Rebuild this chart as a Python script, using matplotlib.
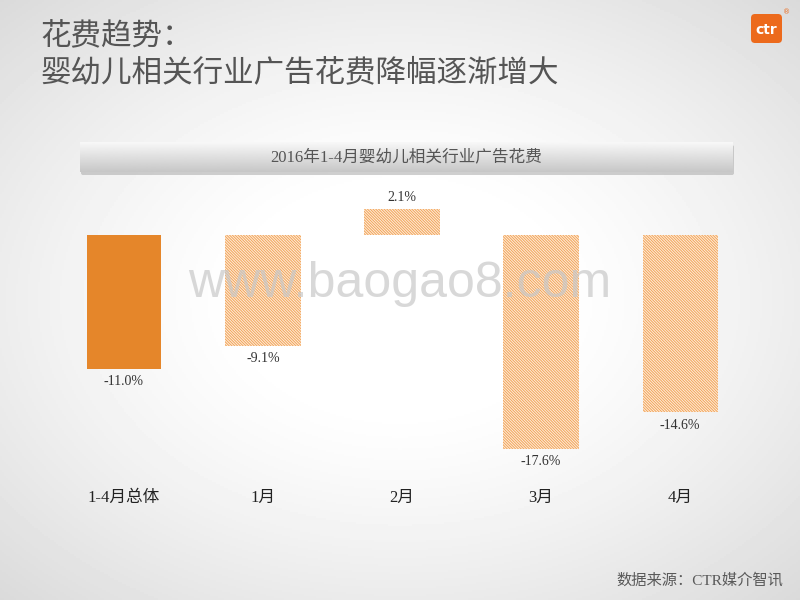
import numpy as np
import matplotlib
matplotlib.use("Agg")
import matplotlib.pyplot as plt
from matplotlib.patches import FancyBboxPatch

plt.rcParams['font.family'] = ['Liberation Serif', 'Noto Sans CJK SC', 'DejaVu Sans']
plt.rcParams['hatch.linewidth'] = 0.7

# data
categories = ['1-4月总体', '1月', '2月', '3月', '4月']
values = [-11.0, -9.1, 2.1, -17.6, -14.6]
value_labels = ['-11.0%', '-9.1%', '2.1%', '-17.6%', '-14.6%']

title_line1 = '花费趋势：'
title_line2 = '婴幼儿相关行业广告花费降幅逐渐增大'
banner_text = '2016年1-4月婴幼儿相关行业广告花费'
source_text = '数据来源：CTR媒介智讯'

fig = plt.figure(figsize=(8, 6), dpi=100)

# background: light radial gradient
bg = fig.add_axes([0, 0, 1, 1], zorder=-10)
yy, xx = np.mgrid[-1:1:300j, -1:1:400j]
r = np.sqrt((xx * 0.95) ** 2 + (yy * 1.0) ** 2)
shade = 1.0 - 0.14 * np.clip(r - 0.35, 0, None) ** 1.3
bg.imshow(shade, cmap='gray', vmin=0, vmax=1, extent=[0, 1, 0, 1], aspect='auto')
bg.set_axis_off()

# overlay axis for decorations in figure pixel coords
deco = fig.add_axes([0, 0, 1, 1], zorder=-5)
deco.set_xlim(0, 800)
deco.set_ylim(600, 0)
deco.set_axis_off()
deco.patch.set_alpha(0)

sans = ['Noto Sans CJK SC', 'DejaVu Sans']
deco.text(40, 37, title_line1, fontsize=22, color='#555555', family=sans, va='center')
deco.text(40, 73, title_line2, fontsize=22, color='#555555', family=sans, va='center')

# banner with shadow
deco.add_patch(FancyBboxPatch((81, 145), 653, 30, boxstyle='round,pad=0,rounding_size=2',
                              facecolor='#b0b0b0', edgecolor='none', alpha=0.6))
grad = np.linspace(0.97, 0.78, 50).reshape(-1, 1)
deco.imshow(grad, cmap='gray', vmin=0, vmax=1, extent=[80, 733, 172, 142], aspect='auto', zorder=2)
deco.text(406, 157, banner_text, fontsize=12, color='#555555', ha='center', va='center', zorder=3)

# ctr logo
deco.add_patch(FancyBboxPatch((751, 14), 31, 29, boxstyle='round,pad=0,rounding_size=4',
                              facecolor='#ec6a1c', edgecolor='none'))
deco.text(766.5, 29.5, 'ctr', fontsize=10, color='white', family=['DejaVu Sans'],
          weight='bold', ha='center', va='center')
deco.text(787, 12, '®', fontsize=5, color='#ec6a1c', family=['DejaVu Sans'], ha='center', va='center')

# source
deco.text(783, 580, source_text, fontsize=11, color='#595959', ha='right', va='center')

# main chart
ax = fig.add_axes([0.068, 0.1833, 0.869, 0.506])
ax.patch.set_alpha(0)
x = np.arange(len(categories))
for i, v in enumerate(values):
    if i == 0:
        ax.bar(x[i], v, width=0.53, color='#e5862a', edgecolor='none')
    else:
        ax.bar(x[i], v, width=0.54, color='#feeedc', edgecolor='#f2a358', hatch='\\' * 12,
               linewidth=0)
for i, (v, lab) in enumerate(zip(values, value_labels)):
    off = 1.0 if v > 0 else -1.05
    ax.text(x[i], v + off, lab, ha='center', va='center', fontsize=10, color='#333333')

ax.set_xlim(-0.5, 4.5)
ax.set_ylim(-21, 4)
ax.set_xticks(x)
ax.set_xticklabels(categories, fontsize=12, color='#222222')
ax.tick_params(axis='x', length=0, pad=0)
ax.set_yticks([])
for s in ax.spines.values():
    s.set_visible(False)

# watermark on top of everything
top = fig.add_axes([0, 0, 1, 1], zorder=10)
top.set_axis_off()
top.patch.set_alpha(0)
top.set_xlim(0, 800)
top.set_ylim(600, 0)
top.text(400, 284, 'www.baogao8.com', fontsize=36, color='#c8c8c8', alpha=0.7,
         family=['Liberation Sans'], ha='center', va='center')

fig.savefig('out.png', dpi=100)
